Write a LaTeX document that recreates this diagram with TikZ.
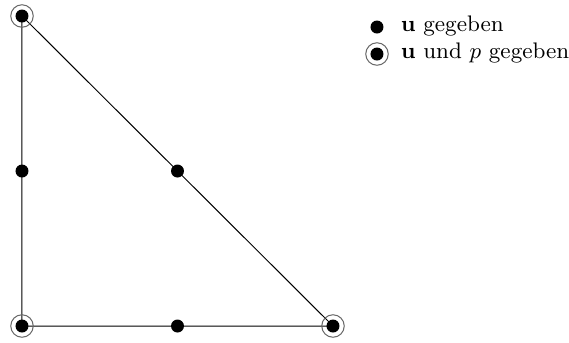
\documentclass[tikz,border=0pt]{standalone}
\usepackage{tikz}
\usetikzlibrary{calc}

\begin{document}
\begin{tikzpicture}[x=0.4pt, y=-0.4pt,
        knot/.style={circle, fill=black, inner sep=0pt, minimum size=5.2pt},
        rand/.style={circle, draw=black!60, thin, inner sep=0pt, minimum size=9pt}]
        \useasboundingbox (0,0) rectangle (569,342);

        % Vertices of the triangle
        \coordinate (A) at (22,16);
        \coordinate (B) at (22,326);
        \coordinate (C) at (333,326);

        % Edges
        \draw[thin] (A) -- (B) -- (C) -- cycle;

        % Midpoints (u only)
        \node[knot] (mAB) at ($(A)!0.5!(B)$) {};
        \node[knot] (mBC) at ($(B)!0.5!(C)$) {};
        \node[knot] (mCA) at ($(C)!0.5!(A)$) {};

        % Vertices (u and p)
        \foreach \v in {A,B,C} {
            \node[rand] (r\v) at (\v) {};
            \node[knot] (k\v) at (\v) {};
        }

        % Legend
        \node[knot] (l1) at (377,27) {};
        \node[anchor=west, font=\small] (t1) at (392,26) {$\mathbf{u}$ gegeben};
        \node[rand] (l2r) at (377,54) {};
        \node[knot] (l2) at (377,54) {};
        \node[anchor=west, font=\small] (t2) at (392,53) {$\mathbf{u}$ und $p$ gegeben};
    \end{tikzpicture}
\end{document}
